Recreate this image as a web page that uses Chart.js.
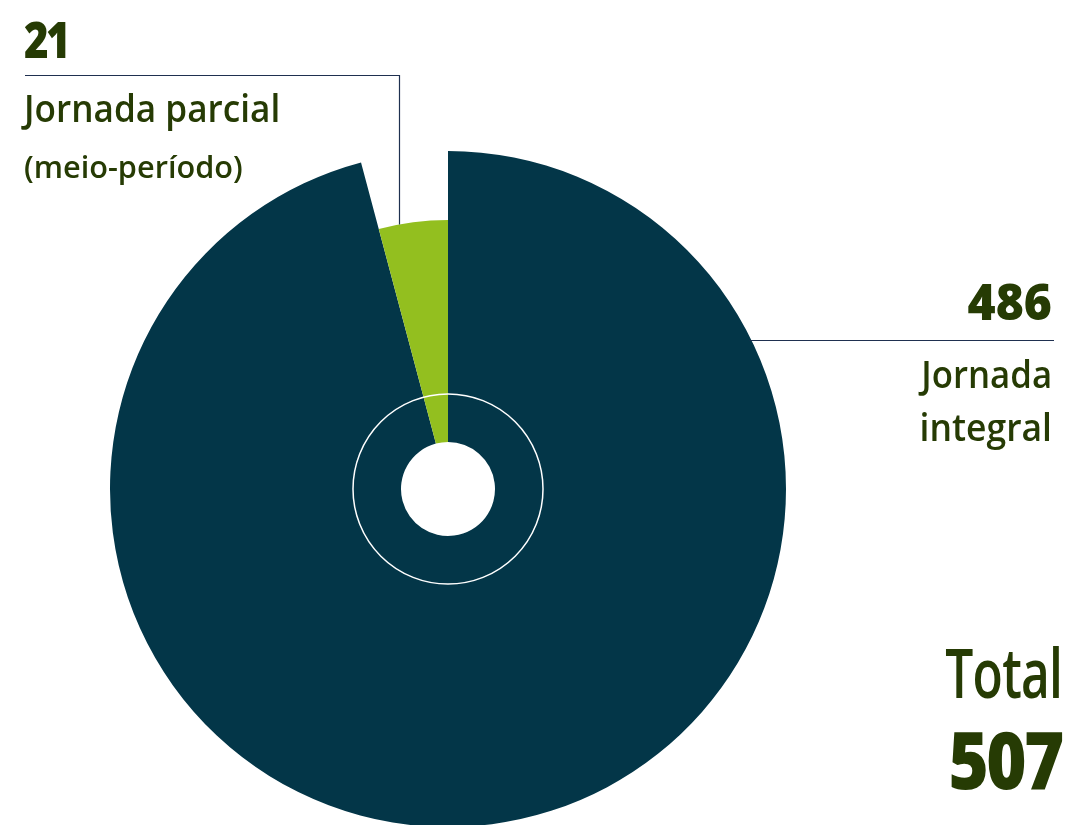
<!DOCTYPE html>
<html>
<head>
<meta charset="utf-8">
<script src="https://cdn.jsdelivr.net/npm/chart.js@4"></script>
<style>
html,body{margin:0;padding:0;background:#fff;overflow:hidden;width:1072px;height:825px;}
#wrap{position:absolute;left:0;top:0;width:1072px;height:827px;}
.t{position:absolute;color:#263b04;font-family:"Open Sans",sans-serif;white-space:nowrap;line-height:1;}
.l{transform-origin:left top;}
.r{transform-origin:right top;text-align:right;}
</style>
</head>
<body>
<div id="wrap"><canvas id="c"></canvas></div>
<div class="t l" style="left:24px;top:14px;font-size:50px;font-weight:800;letter-spacing:-3px;transform:scaleX(0.84);">21</div>
<div class="t l" style="left:24px;top:88px;font-size:38px;font-weight:600;transform:scaleX(0.925);">Jornada parcial</div>
<div class="t l" style="left:24px;top:151px;font-size:31px;font-weight:600;transform:scaleX(0.99);">(meio-período)</div>
<div class="t r" style="right:20px;top:276px;font-size:50px;font-weight:800;transform:scaleX(0.96);">486</div>
<div class="t r" style="right:20px;top:355px;font-size:37px;font-weight:600;transform:scaleX(0.94);">Jornada</div>
<div class="t r" style="right:20px;top:408px;font-size:37px;font-weight:600;transform:scaleX(0.96);">integral</div>
<div class="t r" style="right:10px;top:638px;font-size:68px;font-weight:600;letter-spacing:-1px;transform:scaleX(0.73);">Total</div>
<div class="t r" style="right:10px;top:718px;font-size:80px;font-weight:800;letter-spacing:-3px;transform:scaleX(0.86);">507</div>
<script>
const categories = ['Jornada integral', 'Jornada parcial (meio-período)'];
const values = [486, 21];
const total = 507;

const DARK = '#033648';
const GREEN = '#93bf1f';
const LINE = '#1f3050';
const SMALL_RADIUS_RATIO = 269 / 338; // the small slice is drawn shorter

const shortSlice = {
  id: 'shortSlice',
  beforeDatasetsDraw(chart) {
    const arc = chart.getDatasetMeta(0).data[1];
    const full = chart.getDatasetMeta(0).data[0].outerRadius;
    arc.outerRadius = full * SMALL_RADIUS_RATIO;
  }
};

const decor = {
  id: 'decor',
  afterDatasetsDraw(chart) {
    const ctx = chart.ctx;
    const big = chart.getDatasetMeta(0).data[0];
    const small = chart.getDatasetMeta(0).data[1];
    const cx = big.x, cy = big.y;
    ctx.save();
    ctx.beginPath();
    ctx.arc(cx, cy, 95, 0, Math.PI * 2);
    ctx.strokeStyle = '#ffffff';
    ctx.lineWidth = 1.5;
    ctx.stroke();
    const lx = 399;
    const r = small.outerRadius;
    const ly = cy - Math.sqrt(r * r - (lx - cx) * (lx - cx));
    ctx.beginPath();
    ctx.moveTo(25, 75.5);
    ctx.lineTo(lx + 0.5, 75.5);
    ctx.lineTo(lx + 0.5, ly);
    ctx.strokeStyle = LINE;
    ctx.lineWidth = 1.2;
    ctx.stroke();
    const R = big.outerRadius;
    const y2 = 340.5;
    const x2 = cx + Math.sqrt(R * R - (y2 - cy) * (y2 - cy));
    ctx.beginPath();
    ctx.moveTo(x2 - 2, y2);
    ctx.lineTo(1054, y2);
    ctx.stroke();
    ctx.restore();
  }
};

new Chart(document.getElementById('c'), {
  type: 'doughnut',
  data: {
    labels: categories,
    datasets: [
      { data: values, backgroundColor: [DARK, GREEN], borderWidth: 0 }
    ]
  },
  options: {
    responsive: true,
    maintainAspectRatio: false,
    animation: false,
    cutout: 47,
    hoverOffset: 0,
    layout: { padding: { left: 110, right: 286, top: 151, bottom: 0 } },
    plugins: { legend: { display: false }, tooltip: { enabled: false } },
    events: []
  },
  plugins: [shortSlice, decor]
});
</script>
</body>
</html>
